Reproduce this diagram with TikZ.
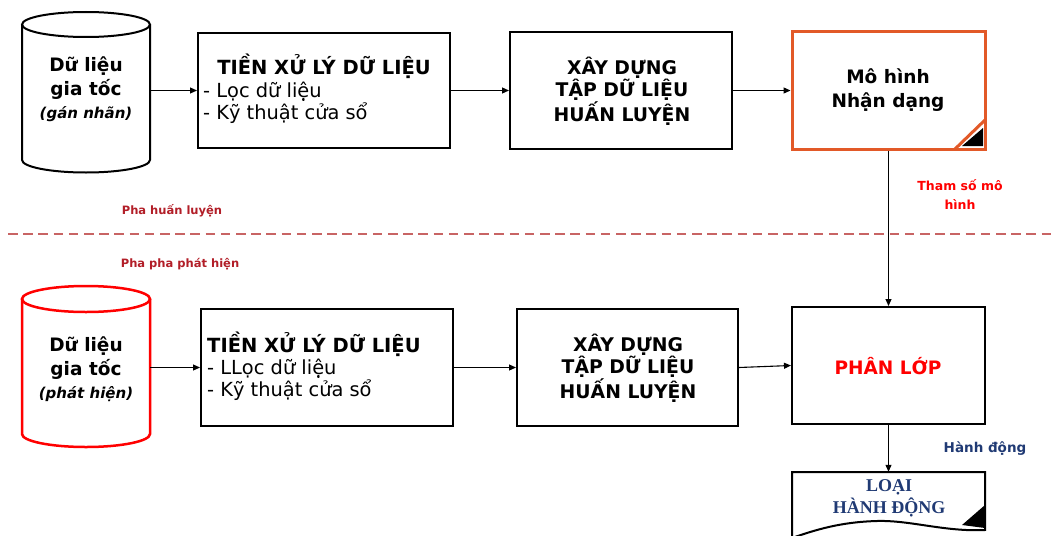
\documentclass[tikz,border=0pt]{standalone}
\usepackage{fontspec}
\setmainfont{DejaVu Sans}
\newfontfamily\seriffont{Liberation Serif}
\usetikzlibrary{arrows.meta}
\definecolor{orng}{RGB}{226,89,40}
\definecolor{dred}{RGB}{178,30,40}
\definecolor{dashred}{RGB}{200,100,100}
\definecolor{navy}{RGB}{32,58,116}
\definecolor{pure}{RGB}{255,0,0}
\begin{document}
\begin{tikzpicture}[x=1pt,y=-1pt,
  box/.style={draw, line width=2pt, inner sep=0pt},
  ghost/.style={inner sep=0pt},
  arr/.style={-{Triangle[length=7pt,width=6pt]}, line width=1.1pt},
  tbig/.style={font=\fontsize{18.5}{23.5}\selectfont\bfseries, align=center, inner sep=0pt},
  tcaps/.style={font=\fontsize{18.8}{22}\selectfont\bfseries, align=center, inner sep=0pt},
  treg/.style={font=\fontsize{19.4}{22}\selectfont, inner sep=0pt, anchor=base west},
  ttitle/.style={font=\fontsize{19.5}{22}\selectfont\bfseries, inner sep=0pt},
  phase/.style={font=\fontsize{11.5}{14}\selectfont\bfseries, text=dred, inner sep=0pt}
]
\useasboundingbox (0,0) rectangle (1056,535);

% ---------- training phase ----------
\node[ghost, minimum width=128pt, minimum height=160pt] (cyl1) at (86,92) {};
\draw[line width=2pt] (22,24.5) -- (22,160) arc[start angle=180, end angle=360, x radius=64pt, y radius=12.5pt] -- (150,24.5);
\draw[line width=2pt] (86,24.5) ellipse [x radius=64pt, y radius=12.5pt];
\node[tbig] (cyl1t) at (86,89.5) {Dữ liệu\\gia tốc\\{\fontsize{15}{19}\selectfont\bfseries\itshape (gán nhãn)}};

\node[box, minimum width=252pt, minimum height=115pt] (b1) at (324,90.5) {};
\node[ttitle, anchor=base] (b1t) at (324,74.5) {TIỀN XỬ LÝ DỮ LIỆU};
\node[treg] (b1a) at (203,97.5) {- Lọc dữ liệu};
\node[treg] (b1b) at (203,119.5) {- Kỹ thuật cửa sổ};

\node[box, minimum width=222pt, minimum height=116pt] (b2) at (621,90.5) {};
\node[tcaps] (b2t) at (622,91) {XÂY DỰNG\\TẬP DỮ LIỆU\\HUẤN LUYỆN};

\node[draw=orng, line width=3pt, inner sep=0pt, minimum width=193pt, minimum height=117pt] (b3) at (888.5,90.5) {};
\fill[black] (962,146) -- (983,146) -- (983,128) -- cycle;
\draw[orng, line width=3pt] (955,149) -- (985,120);
\node[tbig] (b3t) at (888,90) {Mô hình\\Nhận dạng};

\draw[arr] (cyl1.east |- b1.west) -- (b1.west);
\draw[arr] (b1) -- (b2);
\draw[arr] (b2) -- (b3);

\node[phase] (ph1) at (172,211) {Pha huấn luyện};
\draw[dashred, line width=2pt, dash pattern=on 9.5pt off 5.7pt] (8,234) -- (1056,234);
\node[phase] (ph2) at (180,264) {Pha pha phát hiện};

\node[font=\fontsize{12.5}{19}\selectfont\bfseries, text=pure, align=center, inner sep=0pt] (tham) at (960,195) {Tham số mô\\hình};

% ---------- detection phase ----------
\node[ghost, minimum width=128pt, minimum height=161pt] (cyl2) at (86,366.5) {};
\draw[pure, line width=2.5pt] (22,299) -- (22,434) arc[start angle=180, end angle=360, x radius=64pt, y radius=13pt] -- (150,299);
\draw[pure, line width=2.5pt] (86,299) ellipse [x radius=64pt, y radius=13pt];
\node[tbig] (cyl2t) at (86,369.5) {Dữ liệu\\gia tốc\\{\fontsize{15}{19}\selectfont\bfseries\itshape (phát hiện)}};

\node[box, minimum width=252pt, minimum height=117pt] (b4) at (327,367.5) {};
\node[ttitle, anchor=base west] (b4t) at (207,352) {TIỀN XỬ LÝ DỮ LIỆU};
\node[treg] (b4a) at (207,374) {- LLọc dữ liệu};
\node[treg] (b4b) at (207,396) {- Kỹ thuật cửa sổ};

\node[box, minimum width=221pt, minimum height=117pt] (b5) at (627.5,367.5) {};
\node[tcaps] (b5t) at (628,368) {XÂY DỰNG\\TẬP DỮ LIỆU\\HUẤN LUYỆN};

\node[box, minimum width=193pt, minimum height=117pt] (b6) at (888.5,365.5) {};
\node[tbig, text=pure] (b6t) at (888,366) {PHÂN LỚP};

\draw[arr] (cyl2.east |- b4.west) -- (b4.west);
\draw[arr] (b4) -- (b5);
\draw[arr] (b5.east) -- (b6.west);
\draw[arr] (b3.south) -- (b6.north);

\node[font=\fontsize{13.5}{16}\selectfont\bfseries, text=navy, inner sep=0pt] (hd) at (985,449) {Hành động};

% document shape
\node[ghost, minimum width=193pt, minimum height=64pt] (doc) at (888.5,504) {};
\draw[line width=2pt] (792,538) -- (792,472) -- (985,472) -- (985,530)
  .. controls (945,532) and (910,520) .. (877,521)
  .. controls (840,522) and (815,530) .. (792,538);
\fill[black] (962,525) -- (985,505) -- (985,528) -- cycle;
\node[font=\seriffont\fontsize{18}{22}\selectfont\bfseries, text=navy, align=center, inner sep=0pt] (doct) at (889,498.5) {LOẠI\\HÀNH ĐỘNG};

\draw[arr] (b6.south) -- (doc.north);
\end{tikzpicture}
\end{document}
